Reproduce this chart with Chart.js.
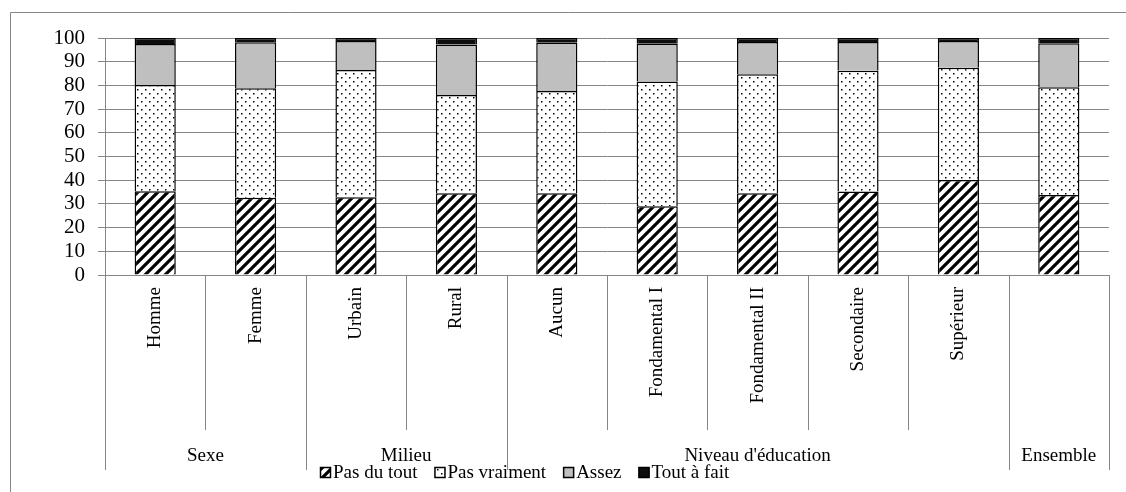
<!DOCTYPE html>
<html>
<head>
<meta charset="utf-8">
<script src="https://cdn.jsdelivr.net/npm/chart.js@4.4.1/dist/chart.umd.min.js"></script>
<style>
  html, body { margin: 0; padding: 0; background: #fff; }
</style>
</head>
<body>
<canvas id="chart" width="1126" height="492"></canvas>
<script>
// categories (last bar = Ensemble, no own label)
const categories = ['Homme', 'Femme', 'Urbain', 'Rural', 'Aucun', 'Fondamental I', 'Fondamental II', 'Secondaire', 'Supérieur', ''];
const groupLabels = ['Sexe', 'Milieu', "Niveau d'éducation", 'Ensemble'];
const groupSpans = [2, 2, 5, 1];
const seriesNames = ['Pas du tout', 'Pas vraiment', 'Assez', 'Tout à fait'];

const pasDuTout   = [35.3, 32.6, 32.8, 34.5, 34.5, 29.0, 34.5, 35.2, 40.1, 33.8];
const pasVraiment = [44.9, 46.2, 53.7, 41.4, 43.1, 52.6, 50.2, 51.0, 47.4, 45.4];
const assez       = [17.3, 19.4, 12.2, 21.4, 20.4, 16.0, 13.6, 12.1, 11.2, 18.6];
const toutAFait   = [2.5, 1.8, 1.3, 2.7, 2.0, 2.4, 1.7, 1.7, 1.3, 2.2];

const yTicks = [0, 10, 20, 30, 40, 50, 60, 70, 80, 90, 100];

const FONT = "'Liberation Serif', 'DejaVu Serif', serif";
const GRID = '#868686';

const canvas = document.getElementById('chart');
const ctx = canvas.getContext('2d');

function makeHatch() {
  const c = document.createElement('canvas');
  c.width = 10; c.height = 10;
  const g = c.getContext('2d');
  g.fillStyle = '#fff';
  g.fillRect(0, 0, 10, 10);
  g.strokeStyle = '#000';
  g.lineWidth = 3.2;
  g.beginPath();
  g.moveTo(-5, 5); g.lineTo(5, -5);
  g.moveTo(0, 10); g.lineTo(10, 0);
  g.moveTo(5, 15); g.lineTo(15, 5);
  g.stroke();
  return ctx.createPattern(c, 'repeat');
}

function makeDots() {
  const c = document.createElement('canvas');
  c.width = 8; c.height = 8;
  const g = c.getContext('2d');
  g.fillStyle = '#fff';
  g.fillRect(0, 0, 8, 8);
  g.fillStyle = '#000';
  g.fillRect(1, 1, 1.5, 1.5);
  g.fillRect(5, 5, 1.5, 1.5);
  return ctx.createPattern(c, 'repeat');
}

const fills = [makeHatch(), makeDots(), '#bfbfbf', '#0d0d0d'];
const values = [pasDuTout, pasVraiment, assez, toutAFait];

// frame, multi-level category axis and legend
const decor = {
  id: 'decor',
  beforeDraw(chart) {
    const c = chart.ctx;
    c.save();
    c.strokeStyle = GRID;
    c.lineWidth = 1;
    c.beginPath();
    c.moveTo(10.5, 492);
    c.lineTo(10.5, 12.5);
    c.lineTo(1126, 12.5);
    c.stroke();
    c.restore();
  },
  afterDraw(chart) {
    const c = chart.ctx;
    const x = chart.scales.x;
    const area = chart.chartArea;
    const n = categories.length;

    const edge = (i) => {
      if (i === 0) return x.left;
      if (i === n) return x.right;
      return (x.getPixelForValue(i - 1) + x.getPixelForValue(i)) / 2;
    };

    const groupEdges = [0];
    groupSpans.forEach((s) => groupEdges.push(groupEdges[groupEdges.length - 1] + s));

    c.save();
    c.strokeStyle = GRID;
    c.lineWidth = 1;
    for (let i = 0; i <= n; i++) {
      const px = Math.round(edge(i)) + 0.5;
      const end = groupEdges.includes(i) ? 470 : 430;
      c.beginPath();
      c.moveTo(px, area.bottom);
      c.lineTo(px, end);
      c.stroke();
    }

    c.fillStyle = '#000';
    c.font = '19px ' + FONT;
    c.textAlign = 'center';
    c.textBaseline = 'middle';
    groupLabels.forEach((label, k) => {
      const cx = (edge(groupEdges[k]) + edge(groupEdges[k + 1])) / 2;
      c.fillText(label, cx, 456);
    });

    // legend
    let lx = 320;
    const ly = 473;
    c.textAlign = 'left';
    chart.data.datasets.forEach((ds) => {
      c.fillStyle = ds.backgroundColor;
      c.fillRect(lx, ly - 6, 11, 11);
      c.strokeStyle = '#000';
      c.lineWidth = 1.5;
      c.strokeRect(lx + 0.5, ly - 5.5, 10, 10);
      c.fillStyle = '#000';
      c.fillText(ds.label, lx + 13, ly);
      lx += 13 + c.measureText(ds.label).width + 17;
    });
    c.restore();
  }
};

new Chart(ctx, {
  type: 'bar',
  data: {
    labels: categories,
    datasets: seriesNames.map((name, i) => ({
      label: name,
      data: values[i],
      backgroundColor: fills[i],
      borderColor: '#000',
      borderWidth: 1.5,
      barPercentage: 0.41,
      categoryPercentage: 1
    }))
  },
  options: {
    responsive: false,
    animation: false,
    layout: { padding: { left: 0, top: 38, right: 17, bottom: 0 } },
    plugins: {
      legend: { display: false },
      tooltip: { enabled: false }
    },
    scales: {
      x: {
        stacked: true,
        offset: true,
        grid: { display: false, drawTicks: false },
        border: { display: true, color: GRID, width: 1 },
        ticks: {
          color: '#000',
          font: { family: FONT, size: 19 },
          minRotation: 90,
          maxRotation: 90,
          autoSkip: false,
          padding: 12
        },
        afterFit(scale) { scale.height = 217; }
      },
      y: {
        stacked: true,
        min: 0,
        max: 100,
        afterBuildTicks(scale) { scale.ticks = yTicks.map((v) => ({ value: v })); },
        grid: { color: GRID, lineWidth: 1, tickLength: 7 },
        border: { display: true, color: GRID, width: 1 },
        ticks: {
          color: '#000',
          font: { family: FONT, size: 21 },
          padding: 13,
          autoSkip: false,
          stepSize: 10
        },
        afterFit(scale) { scale.width = 105; }
      }
    }
  },
  plugins: [decor]
});
</script>
</body>
</html>
